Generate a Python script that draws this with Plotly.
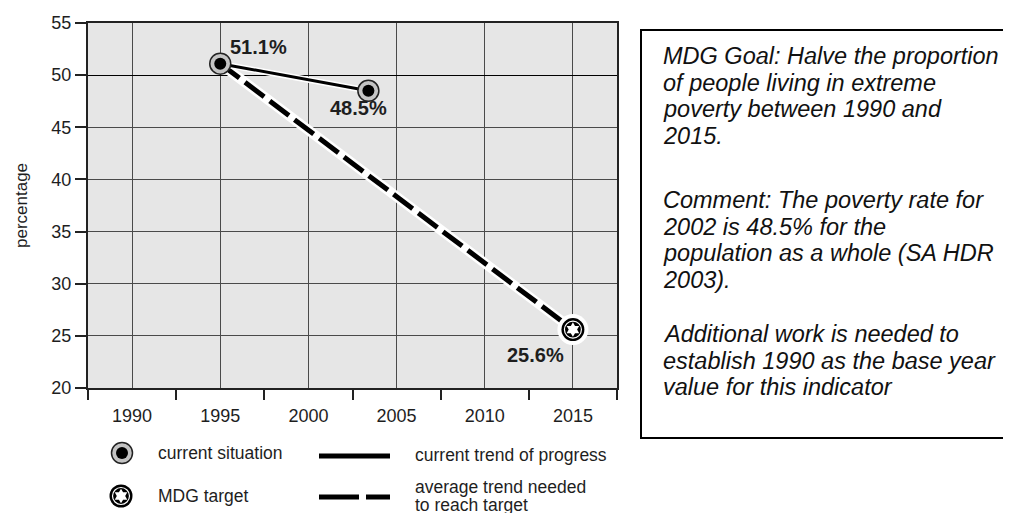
import plotly.graph_objects as go

W, H = 1011, 513
OFF = 8  # page body margin that the browser adds around the figure

# Data
current_years = [1995, 2003.4]
current_values = [51.1, 48.5]
target_years = [1995, 2015]
target_values = [51.1, 25.6]
tick_years = [1990, 1995, 2000, 2005, 2010, 2015]
boundary_years = [1987.5, 1992.5, 1997.5, 2002.5, 2007.5, 2012.5, 2017.5]

box_lines = [
    ["MDG Goal: Halve the proportion", "of people living in extreme",
     "poverty between 1990 and", "2015."],
    ["Comment: The poverty rate for", "2002 is 48.5% for the",
     "population as a whole (SA HDR", "2003)."],
    ["Additional work is needed to", "establish 1990 as the base year",
     "value for this indicator"],
]


# screen pixel -> paper coords
def px(x):
    return (x - OFF) / W


def py(y):
    return 1 - (y - OFF) / H


FONT = "Liberation Sans, Arial, sans-serif"
INK = "#1e1e1e"

fig = go.Figure()

# average trend needed (white halo + black dashes)
fig.add_trace(go.Scatter(x=target_years, y=target_values, mode="lines",
                         line=dict(color="white", width=10), hoverinfo="skip"))
fig.add_trace(go.Scatter(x=target_years, y=target_values, mode="lines",
                         line=dict(color="black", width=5, dash="24px,7px"), hoverinfo="skip"))

# current trend
fig.add_trace(go.Scatter(x=current_years, y=current_values, mode="lines",
                         line=dict(color="white", width=6), hoverinfo="skip"))
fig.add_trace(go.Scatter(x=current_years, y=current_values, mode="lines",
                         line=dict(color="black", width=3), hoverinfo="skip"))

# current situation markers
fig.add_trace(go.Scatter(x=current_years, y=current_values, mode="markers",
                         marker=dict(size=21, color="#c4c4c4", line=dict(color="#222", width=1.5)),
                         hoverinfo="skip"))
fig.add_trace(go.Scatter(x=current_years, y=current_values, mode="markers",
                         marker=dict(size=12, color="black"), hoverinfo="skip"))

# MDG target marker
tx, ty = target_years[-1:], target_values[-1:]
fig.add_trace(go.Scatter(x=tx, y=ty, mode="markers",
                         marker=dict(size=31, color="white"), hoverinfo="skip"))
fig.add_trace(go.Scatter(x=tx, y=ty, mode="markers",
                         marker=dict(size=23, color="black"), hoverinfo="skip"))
fig.add_trace(go.Scatter(x=tx, y=ty, mode="markers",
                         marker=dict(size=17, color="black", line=dict(color="white", width=1.2)),
                         hoverinfo="skip"))
fig.add_trace(go.Scatter(x=tx, y=ty, mode="markers",
                         marker=dict(size=11, color="white", symbol="hexagram"), hoverinfo="skip"))

# legend keys (on a screen-pixel helper axis)
leg_ax = dict(xaxis="x3", yaxis="y3", hoverinfo="skip", cliponaxis=False)
fig.add_trace(go.Scatter(x=[122], y=[453], mode="markers",
                         marker=dict(size=21, color="#c4c4c4", line=dict(color="#222", width=1.5)), **leg_ax))
fig.add_trace(go.Scatter(x=[122], y=[453], mode="markers",
                         marker=dict(size=12, color="black"), **leg_ax))
fig.add_trace(go.Scatter(x=[121], y=[496], mode="markers",
                         marker=dict(size=23, color="black"), **leg_ax))
fig.add_trace(go.Scatter(x=[121], y=[496], mode="markers",
                         marker=dict(size=17, color="black", line=dict(color="white", width=1.2)), **leg_ax))
fig.add_trace(go.Scatter(x=[121], y=[496], mode="markers",
                         marker=dict(size=11, color="white", symbol="hexagram"), **leg_ax))

# helper trace so the boundary-tick axis and the y=50 line axis get drawn
fig.add_trace(go.Scatter(x=[2000], y=[50], xaxis="x2", yaxis="y2", mode="markers",
                         marker=dict(opacity=0), hoverinfo="skip"))

annotations = []
# point labels
lab = dict(font=dict(family=FONT, size=20, color=INK), showarrow=False)
annotations.append(dict(x=current_years[0], y=current_values[0], text="<b>51.1%</b>",
                        xshift=38, yshift=17, **lab))
annotations.append(dict(x=current_years[1], y=current_values[1], text="<b>48.5%</b>",
                        xshift=-10, yshift=-17, **lab))
annotations.append(dict(x=target_years[1], y=target_values[1], text="<b>25.6%</b>",
                        xshift=-37, yshift=-25, **lab))

# text box
para_top = [56, 200, 334]
for top, lines in zip(para_top, box_lines):
    for i, line in enumerate(lines):
        annotations.append(dict(xref="paper", yref="paper", x=px(661), y=py(top + i * 26.7),
                                xanchor="left", yanchor="middle", text="<i>%s</i>" % line,
                                showarrow=False, font=dict(family=FONT, size=23.5, color="#111")))

# legend texts
leg_font = dict(family=FONT, size=17.5, color=INK)
for x, y, t in [(156, 453, "current situation"), (156, 496, "MDG target"),
                (413, 455, "current trend of progress"),
                (413, 487, "average trend needed"), (413, 505, "to reach target")]:
    annotations.append(dict(xref="paper", yref="paper", x=px(x), y=py(y), xanchor="left",
                            yanchor="middle", text=t, showarrow=False, font=leg_font))

shapes = [
    # grey plotting area
    dict(type="rect", xref="x domain", yref="y domain", x0=0, x1=1, y0=0, y1=1,
         fillcolor="#e6e6e6", line=dict(width=0), layer="below"),
    dict(type="rect", xref="paper", yref="paper", x0=px(641), x1=px(1016), y0=py(30), y1=py(438),
         line=dict(color="black", width=2)),
    dict(type="line", xref="paper", yref="paper", x0=px(319), x1=px(390), y0=py(456), y1=py(456),
         line=dict(color="black", width=5)),
    dict(type="line", xref="paper", yref="paper", x0=px(319), x1=px(390), y0=py(497), y1=py(497),
         line=dict(color="black", width=5, dash="40px,7px")),
]

grid = "#4a4a4a"
fig.update_layout(
    width=W, height=H,
    margin=dict(l=0, r=0, t=0, b=0, pad=0),
    paper_bgcolor="white", plot_bgcolor="rgba(0,0,0,0)",
    showlegend=False,
    font=dict(family=FONT, color=INK),
    xaxis=dict(domain=[px(88), px(617)], range=[1987.5, 2017.5], tickvals=tick_years,
               ticktext=[str(y) for y in tick_years], ticks="outside", ticklen=10,
               tickcolor="rgba(0,0,0,0)", showgrid=True, gridcolor=grid, gridwidth=1,
               showline=True, linecolor="#222", linewidth=2, mirror=True, zeroline=False,
               tickfont=dict(size=18, color=INK), automargin=False),
    xaxis2=dict(overlaying="x", anchor="y", side="bottom", range=[1987.5, 2017.5],
                tickvals=boundary_years, ticks="outside", ticklen=11, tickwidth=2,
                tickcolor="#222", showticklabels=False, showgrid=False, zeroline=False,
                automargin=False),
    yaxis=dict(domain=[py(388), py(23)], range=[20, 55], dtick=5, tick0=20, ticks="outside",
               ticklen=11, tickwidth=1.5, tickcolor="#222", showgrid=True, gridcolor=grid,
               gridwidth=1, showline=True, linecolor="#222", linewidth=2, mirror=True,
               zeroline=False, tickfont=dict(size=18, color=INK), automargin=False,
               title=dict(text="percentage", font=dict(size=17, color=INK), standoff=19)),
    yaxis2=dict(overlaying="y", anchor="x", side="left", range=[20, 55], tickvals=[50],
                showticklabels=False, ticks="", showgrid=True, gridcolor="black",
                gridwidth=1.2, zeroline=False, automargin=False),
    xaxis3=dict(domain=[0, 1], range=[OFF, W + OFF], visible=False, anchor="y3", automargin=False),
    yaxis3=dict(domain=[0, 1], range=[H + OFF, OFF], visible=False, anchor="x3", automargin=False),
    annotations=annotations,
    shapes=shapes,
)

fig.write_html("out.html")
